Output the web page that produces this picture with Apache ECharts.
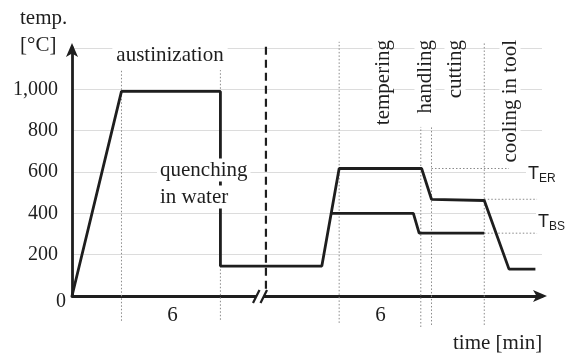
<!DOCTYPE html>
<html>
<head>
<meta charset="utf-8">
<script src="https://cdn.jsdelivr.net/npm/echarts@6/dist/echarts.min.js"></script>
<style>
html,body{margin:0;padding:0;background:#fff;}
#c{width:570px;height:355px;}
</style>
</head>
<body>
<div id="c"></div>
<script>
// ---- data (time in notional minutes, temperature in °C) ----
const tempTicks = [0, 200, 400, 600, 800, 1000];
const upperPath = [[0,0],[3,990],[9,990],[9,145],[15.15,145],[16.2,617],[21.2,617],[21.8,468],[25,462],[26.5,130],[28.1,130]];
const lowerPath = [[15.72,400],[20.7,400],[21.05,304],[25,304]];
const guideTimes = [3, 9, 16.2, 21.15, 21.8, 25];
const guideTops = [1093, 1093, 1230, 818, 818, 1224];
const guideBottoms = [-120, -115, -130, -150, -140, -140];
const levelGuides = [[21.8, 26.5, 617], [25, 28.2, 468], [25, 28.2, 304]];
const breakTime = 11.4;
const splitTime = 11.76;
const durationLabels = [[6.1, '6'], [18.7, '6']];

const serif = 'Liberation Serif';
const sans = 'Liberation Sans';
const ink = '#1e1e1e';

const series = [];
series.push({type:'line', data: upperPath, showSymbol:false, symbol:'none', clip:false, z:5,
  lineStyle:{color:ink, width:2.8}, animation:false});
series.push({type:'line', data: lowerPath, showSymbol:false, symbol:'none', clip:false, z:5,
  lineStyle:{color:ink, width:2.8}, animation:false});
guideTimes.forEach((t,i)=>{
  series.push({type:'line', data:[[t, guideBottoms[i]],[t, guideTops[i]]], symbol:'none', clip:false, z:3,
    lineStyle:{color:'#8a8a8a', width:1, type:[1.5,2]}, animation:false});
});
levelGuides.forEach(g=>{
  series.push({type:'line', data:[[g[0], g[2]],[g[1], g[2]]], symbol:'none', clip:false, z:3,
    lineStyle:{color:'#8a8a8a', width:1, type:[1.5,2]}, animation:false});
});
series.push({type:'line', data:[[splitTime, 35],[splitTime, 1230]], symbol:'none', clip:false, z:4,
  lineStyle:{color:ink, width:2.2, type:[8,5]}, animation:false});
// axis break mark
series.push({type:'custom', clip:false, z:10, data:[[breakTime, 0]], animation:false,
  renderItem:function(params, api){
    const p = api.coord([api.value(0), api.value(1)]);
    return {type:'group', children:[
      {type:'rect', shape:{x:p[0]-4, y:p[1]-3, width:8, height:6}, style:{fill:'#fff'}},
      {type:'line', shape:{x1:p[0]-7, y1:p[1]+7, x2:p[0]-0.5, y2:p[1]-6}, style:{stroke:ink, lineWidth:2.2}},
      {type:'line', shape:{x1:p[0]+0.5, y1:p[1]+7, x2:p[0]+7, y2:p[1]-6}, style:{stroke:ink, lineWidth:2.2}}
    ]};
  }});
// duration labels under the axis
series.push({type:'custom', clip:false, z:6, animation:false,
  data: durationLabels.map(d=>[d[0], -95]),
  renderItem:function(params, api){
    const p = api.coord([api.value(0), api.value(1)]);
    return {type:'text', x:p[0], y:p[1], style:{text:durationLabels[params.dataIndex][1], font:'21px '+serif, fill:ink, align:'center', verticalAlign:'middle'}};
  }});

const chart = echarts.init(document.getElementById('c'), null, {renderer:'canvas'});
chart.setOption({
  animation:false,
  backgroundColor:'#fff',
  grid:{left:72, right:28, top:48, bottom:59},
  xAxis:{type:'value', min:0, max:28.5,
    axisLine:{show:true, lineStyle:{color:ink, width:2.8}, symbol:['none','arrow'], symbolSize:[9,14], symbolOffset:[0,5]},
    axisTick:{show:false}, axisLabel:{show:false}, splitLine:{show:false}},
  yAxis:{type:'value', min:0, max:1200, interval:200,
    axisLine:{show:true, lineStyle:{color:ink, width:2.8}, symbol:['none','arrow'], symbolSize:[9,14], symbolOffset:[0,5]},
    axisTick:{show:false},
    axisLabel:{margin:14, fontFamily:serif, fontSize:20, color:ink,
      formatter:v=> (v===0||v===1200) ? '' : v.toLocaleString('en-US')},
    splitLine:{show:true, lineStyle:{color:'#dcdcdc', width:1}}},
  series: series,
  graphic:[
    {type:'text', x:20, y:18, style:{text:'temp.', font:'21px '+serif, fill:ink, verticalAlign:'middle'}},
    {type:'text', x:20, y:45, style:{text:'[°C]', font:'21px '+serif, fill:ink, verticalAlign:'middle'}},
    {type:'text', x:66, y:302, style:{text:'0', font:'20px '+serif, fill:ink, align:'right', verticalAlign:'middle'}},
    {type:'text', x:170, y:55, z:20, style:{text:'austinization', font:'21px '+serif, fill:ink, align:'center', verticalAlign:'middle', backgroundColor:'#fff', padding:[2,4]}},
    {type:'text', x:157, y:170, z:20, style:{text:'quenching', font:'21px '+serif, fill:ink, verticalAlign:'middle', backgroundColor:'#fff', padding:[1,3]}},
    {type:'text', x:157, y:197, z:20, style:{text:'in water', font:'21px '+serif, fill:ink, verticalAlign:'middle', backgroundColor:'#fff', padding:[1,3]}},
    {type:'text', x:453, y:343, style:{text:'time [min]', font:'21px '+serif, fill:ink, verticalAlign:'middle'}},
    {type:'text', x:383, y:38, rotation:Math.PI/2, z:20, style:{text:'tempering', font:'21px '+serif, fill:ink, align:'right', verticalAlign:'middle', backgroundColor:'#fff', padding:[0,2]}},
    {type:'text', x:425, y:38, rotation:Math.PI/2, z:20, style:{text:'handling', font:'21px '+serif, fill:ink, align:'right', verticalAlign:'middle', backgroundColor:'#fff', padding:[0,2]}},
    {type:'text', x:455, y:38, rotation:Math.PI/2, z:20, style:{text:'cutting', font:'21px '+serif, fill:ink, align:'right', verticalAlign:'middle', backgroundColor:'#fff', padding:[0,2]}},
    {type:'text', x:510, y:38, rotation:Math.PI/2, z:20, style:{text:'cooling in tool', font:'21px '+serif, fill:ink, align:'right', verticalAlign:'middle', backgroundColor:'#fff', padding:[0,2]}},
    {type:'text', x:526, y:174, z:20, style:{text:'{t|T}{s|ER}', verticalAlign:'middle', backgroundColor:'#fff', padding:[0,2],
      rich:{t:{font:'18px '+sans, fill:ink, verticalAlign:'middle'}, s:{font:'12px '+sans, fill:ink, padding:[10,0,0,0]}}}},
    {type:'text', x:536, y:222, z:20, style:{text:'{t|T}{s|BS}', verticalAlign:'middle', backgroundColor:'#fff', padding:[0,2],
      rich:{t:{font:'18px '+sans, fill:ink}, s:{font:'12px '+sans, fill:ink, padding:[10,0,0,0]}}}}
  ]
});
</script>
</body>
</html>
